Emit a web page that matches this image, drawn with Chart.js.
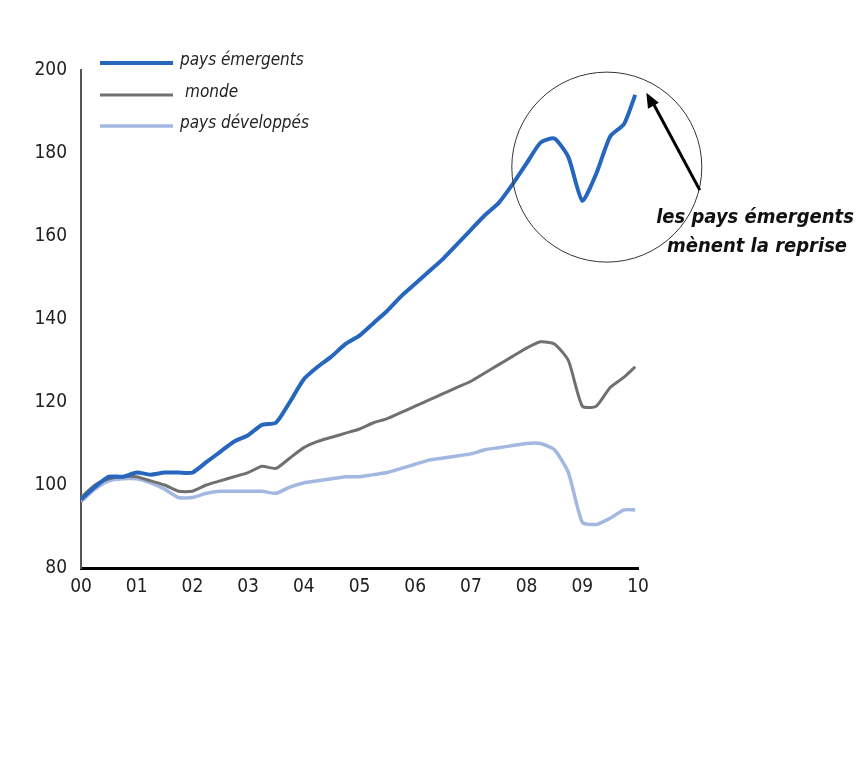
<!DOCTYPE html>
<html>
<head>
<meta charset="utf-8">
<script src="https://cdn.jsdelivr.net/npm/chart.js@4"></script>
<style>
  body { margin: 0; background: #fff; }
  #wrap { width: 868px; height: 771px; }
</style>
</head>
<body>
<div id="wrap"><canvas id="myChart" width="868" height="771"></canvas></div>
<script>
// years since 2000
const years = [0, 0.25, 0.5, 0.75, 1, 1.25, 1.5, 1.75, 2, 2.25, 2.5, 2.75, 3, 3.25, 3.5, 3.75, 4, 4.25, 4.5, 4.75,
  5, 5.25, 5.5, 5.75, 6, 6.25, 6.5, 6.75, 7, 7.25, 7.5, 7.75, 8, 8.25, 8.5, 8.75, 9, 9.25, 9.5, 9.75, 9.95]
const emergents = [96.5, 99.5, 102, 102, 103, 102.5, 103, 103, 103, 105.5, 108, 110.5, 112, 114.5, 115, 120, 125.5, 128.5, 131, 134,
  136, 139, 142, 145.5, 148.5, 151.5, 154.5, 158, 161.5, 165, 168, 172.5, 177.5, 182.5, 183.5, 179, 168.5, 175, 184, 187, 194]
const monde = [97, 100, 101.5, 102, 102, 101, 100, 98.5, 98.5, 100, 101, 102, 103, 104.5, 104, 106.5, 109, 110.5, 111.5, 112.5,
  113.5, 115, 116, 117.5, 119, 120.5, 122, 123.5, 125, 127, 129, 131, 133, 134.5, 134, 130, 119, 119, 123.5, 126, 128.5]
const developpes = [96, 99, 101, 101.5, 101.5, 100.5, 99, 97, 97, 98, 98.5, 98.5, 98.5, 98.5, 98, 99.5, 100.5, 101, 101.5, 102,
  102, 102.5, 103, 104, 105, 106, 106.5, 107, 107.5, 108.5, 109, 109.5, 110, 110, 108.5, 103, 91, 90.5, 92, 94, 94]
const seriesNames = ['pays émergents', 'monde', 'pays développés']
const xTickLabels = ['00', '01', '02', '03', '04', '05', '06', '07', '08', '09', '10']
const note = ['les pays émergents', 'mènent la reprise']

const colors = ['#2766bd', '#707070', '#a3b8e0']
const font = '"Liberation Sans Narrow", "DejaVu Sans Condensed", sans-serif'

function pts(arr) {
  return years.map((x, i) => ({ x: x, y: arr[i] }))
}

const extras = {
  id: 'extras',
  afterDraw(chart) {
    const ctx = chart.ctx
    const xs = chart.scales.x, ys = chart.scales.y
    ctx.save()
    // legend
    const rows = [63, 95, 126]
    chart.data.datasets.forEach((ds, i) => {
      ctx.strokeStyle = ds.borderColor
      ctx.lineWidth = ds.borderWidth
      ctx.beginPath()
      ctx.moveTo(100, rows[i])
      ctx.lineTo(173, rows[i])
      ctx.stroke()
      ctx.fillStyle = '#222'
      ctx.font = 'italic 17px ' + font
      ctx.textBaseline = 'middle'
      ctx.textAlign = 'left'
      ctx.fillText(ds.label, i == 1 ? 185 : 180, rows[i] - 2)
    })
    // circle around the rebound
    const cx = xs.getPixelForValue(9.44), cy = ys.getPixelForValue(176.6)
    ctx.strokeStyle = '#333'
    ctx.lineWidth = 1
    ctx.beginPath()
    ctx.arc(cx, cy, 95, 0, Math.PI * 2)
    ctx.stroke()
    // arrow
    const x1 = cx + 93, y1 = cy + 23, x2 = xs.getPixelForValue(10.15), y2 = ys.getPixelForValue(194.5)
    ctx.strokeStyle = '#000'
    ctx.fillStyle = '#000'
    ctx.lineWidth = 3
    ctx.beginPath()
    ctx.moveTo(x1, y1)
    ctx.lineTo(x2 + 6, y2 + 9)
    ctx.stroke()
    const a = Math.atan2(y2 - y1, x2 - x1)
    ctx.beginPath()
    ctx.moveTo(x2, y2)
    ctx.lineTo(x2 - 16 * Math.cos(a - 0.4), y2 - 16 * Math.sin(a - 0.4))
    ctx.lineTo(x2 - 16 * Math.cos(a + 0.4), y2 - 16 * Math.sin(a + 0.4))
    ctx.closePath()
    ctx.fill()
    // note text
    ctx.font = 'italic bold 20px ' + font
    ctx.textAlign = 'center'
    ctx.textBaseline = 'middle'
    ctx.fillStyle = '#111'
    ctx.fillText(note[0], 755, 218)
    ctx.fillText(note[1], 757, 247)
    ctx.restore()
  }
}

var ctx = document.getElementById('myChart')
var myChart = new Chart(ctx, {
  type: 'line',
  data: {
    datasets: [
      { label: seriesNames[0], data: pts(emergents), borderColor: colors[0], borderWidth: 4 },
      { label: seriesNames[1], data: pts(monde), borderColor: colors[1], borderWidth: 3 },
      { label: seriesNames[2], data: pts(developpes), borderColor: colors[2], borderWidth: 3.5 }
    ]
  },
  options: {
    responsive: false,
    animation: false,
    layout: { padding: { top: 70, left: 0, right: 230, bottom: 173 } },
    elements: { point: { radius: 0 }, line: { tension: 0.2 } },
    plugins: { legend: { display: false }, tooltip: { enabled: false } },
    scales: {
      x: {
        type: 'linear',
        min: 0,
        max: 10,
        afterFit: (s) => { s.height = 30 },
        grid: { display: false },
        border: { display: true, color: '#000', width: 3 },
        ticks: {
          stepSize: 1,
          autoSkip: false,
          maxRotation: 0,
          padding: 0,
          color: '#222',
          font: { family: font, size: 19 },
          callback: (v) => xTickLabels[v]
        }
      },
      y: {
        min: 80,
        max: 200,
        afterFit: (s) => { s.width = 81 },
        grid: { display: false },
        border: { display: true, color: '#555', width: 2 },
        ticks: {
          stepSize: 20,
          padding: 6,
          color: '#222',
          font: { family: font, size: 19 }
        }
      }
    }
  },
  plugins: [extras]
})
</script>
</body>
</html>
